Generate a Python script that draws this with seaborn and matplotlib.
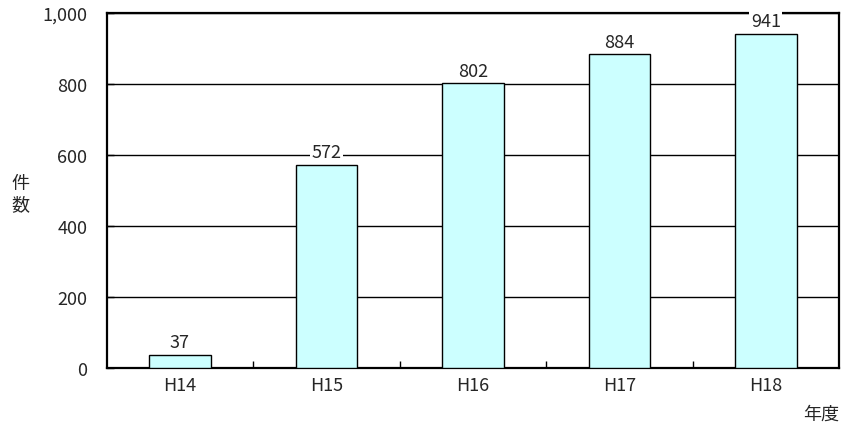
import matplotlib
matplotlib.use("Agg")
import matplotlib.pyplot as plt
import matplotlib.ticker as mticker
import seaborn as sns
import pandas as pd

# --- datos ---
nendo = ["H14", "H15", "H16", "H17", "H18"]
kensu = [37, 572, 802, 884, 941]

df = pd.DataFrame({"nendo": nendo, "kensu": kensu})

sns.set_style("white")
plt.rcParams["font.family"] = ["Noto Sans CJK JP", "DejaVu Sans"]

fig = plt.figure(figsize=(8.47, 4.35), dpi=100)
ax = fig.add_axes([0.126, 0.152, 0.8646, 0.816])

sns.barplot(data=df, x="nendo", y="kensu", color="#CCFFFF", saturation=1,
            edgecolor="black", linewidth=1.0, width=0.42, ax=ax, zorder=3)

ax.set_ylim(0, 1000)
ax.set_xlim(-0.5, len(nendo) - 0.5)
ax.yaxis.set_major_locator(mticker.MultipleLocator(200))
ax.yaxis.set_major_formatter(mticker.FuncFormatter(lambda v, p: f"{int(v):,}"))
ax.grid(axis="y", color="black", linewidth=1.0, zorder=0)
ax.set_axisbelow(True)

for s in ax.spines.values():
    s.set_color("black")
    s.set_linewidth(1.6)
    s.set_visible(True)

# marcas entre categorías
ax.set_xticks([i + 0.5 for i in range(len(nendo) - 1)], minor=True)
ax.tick_params(axis="x", which="minor", bottom=True, direction="in", length=5, width=1, color="black")
ax.tick_params(axis="x", which="major", bottom=True, length=0, pad=6, labelsize=13)
ax.tick_params(axis="y", left=True, direction="in", length=5, width=1, color="black", pad=14, labelsize=13)

ax.set_xlabel("")
ax.set_ylabel("")

for i, v in enumerate(kensu):
    ax.text(i, v + 10, str(v), ha="center", va="bottom", fontsize=13, zorder=4,
            bbox=dict(fc="white", ec="none", pad=1))

fig.text(0.024, 0.552, "件\n数", fontsize=13, ha="center", va="center", linespacing=1.2)
fig.text(0.970, 0.046, "年度", fontsize=13, ha="center", va="center")

fig.savefig("out.png", dpi=100)
